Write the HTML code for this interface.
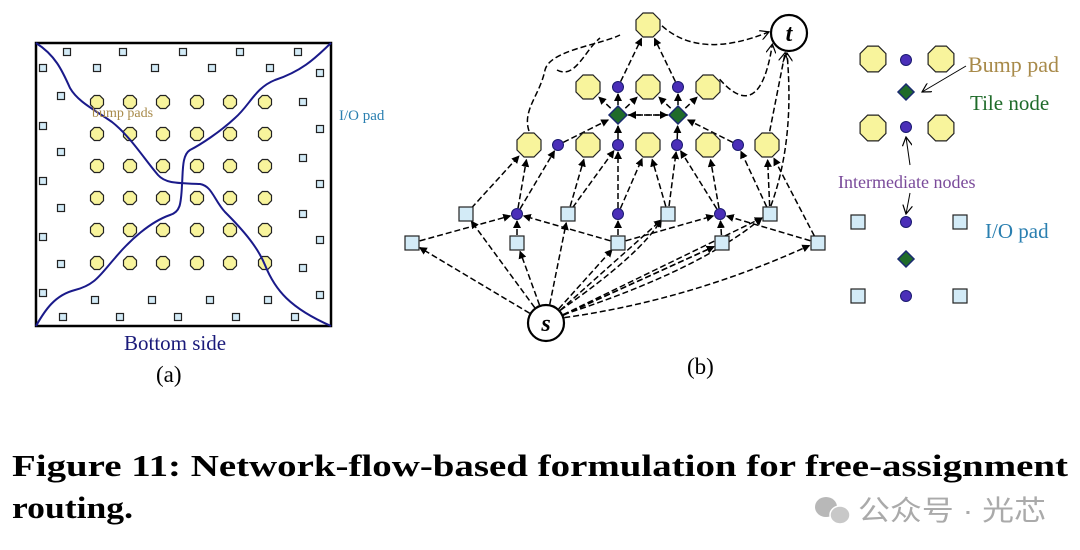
<!DOCTYPE html>
<html><head><meta charset="utf-8"><style>
html,body{margin:0;padding:0;background:#fff;width:1080px;height:550px;overflow:hidden}
svg{display:block}
</style></head><body>
<svg id="s" width="1080" height="550" viewBox="0 0 1080 550" xmlns="http://www.w3.org/2000/svg" font-family="Liberation Serif, serif">
<defs>
<marker id="ah" markerWidth="8" markerHeight="8" refX="7" refY="4" orient="auto" markerUnits="userSpaceOnUse"><path d="M0,0 L8,4 L0,8 z" fill="#000"/></marker>
<marker id="ao" markerWidth="10" markerHeight="10" refX="9" refY="5" orient="auto" markerUnits="userSpaceOnUse"><path d="M0,0 L9,5 L0,10" fill="none" stroke="#000" stroke-width="1.2"/></marker>
</defs>
<g id="a"></g>
<g id="edges" fill="none" stroke="#000" stroke-width="1.5" stroke-dasharray="6,3"></g>
<g id="nodes"></g>
<text x="92" y="117" font-size="14" fill="#a88a4a">bump pads</text>
<text x="339" y="120" font-size="15" fill="#2a7fb0">I/O pad</text>
<text x="124" y="350" font-size="21" fill="#1a1a7a">Bottom side</text>
<text x="156" y="382" font-size="23" fill="#000">(a)</text>
<text x="687" y="374" font-size="23" fill="#000">(b)</text>
<text x="968" y="72" font-size="22" fill="#a88a4a">Bump pad</text>
<text x="970" y="110" font-size="21" fill="#1f6b2a">Tile node</text>
<text x="838" y="188" font-size="18" fill="#7a4a9a">Intermediate nodes</text>
<text x="985" y="238" font-size="21" fill="#2a7fb0">I/O pad</text>
<g stroke="#000" stroke-width="1" fill="none">
<path d="M966,66 L922,92" marker-end="url(#ao)"/>
<path d="M910,165 L906,137" marker-end="url(#ao)"/>
<path d="M910,193 L906,214" marker-end="url(#ao)"/>
</g>
<text x="12" y="476" font-size="31" font-weight="bold" fill="#000" textLength="1056" lengthAdjust="spacingAndGlyphs">Figure 11: Network-flow-based formulation for free-assignment</text>
<text x="12" y="518" font-size="31" font-weight="bold" fill="#000" textLength="121" lengthAdjust="spacingAndGlyphs">routing.</text>
<g fill="#b8b8b8"><ellipse cx="826" cy="507" rx="11" ry="10"/><ellipse cx="840" cy="515" rx="10" ry="9" fill="#c8c8c8" stroke="#fff" stroke-width="1.5"/></g>
<text x="858" y="520" font-size="28" fill="#aaa" font-family="Liberation Sans, Noto Sans CJK SC, sans-serif" textLength="188" lengthAdjust="spacingAndGlyphs">公众号 · 光芯</text>
</svg>
<script>
const NS="http://www.w3.org/2000/svg";
function el(p,t,a){const e=document.createElementNS(NS,t);for(const k in a)e.setAttribute(k,a[k]);p.appendChild(e);return e;}
const A=document.getElementById('a'),E=document.getElementById('edges'),N=document.getElementById('nodes');
function oct(g,x,y,r,fill){let p=[];for(let i=0;i<8;i++){const a=Math.PI/8+i*Math.PI/4;p.push((x+r*Math.cos(a)).toFixed(1)+","+(y+r*Math.sin(a)).toFixed(1));}el(g,'polygon',{points:p.join(' '),fill:fill||'#f8f49c',stroke:'#222','stroke-width':1.2});}
function sq(g,x,y,s){el(g,'rect',{x:x-s/2,y:y-s/2,width:s,height:s,fill:'#d3ebf7',stroke:'#222','stroke-width':1.2});}
function dot(g,x,y,r){el(g,'circle',{cx:x,cy:y,r:r||5,fill:'#4a2fb8',stroke:'#1a1a70','stroke-width':1});}
function dia(g,x,y,r){r=r||8;el(g,'polygon',{points:`${x},${y-r} ${x+r},${y} ${x},${y+r} ${x-r},${y}`,fill:'#1f6b2a',stroke:'#1a2a70','stroke-width':1.5});}
el(A,'rect',{x:36,y:43,width:295,height:283,fill:'none',stroke:'#000','stroke-width':2.5});
const cx=[97,130,163,197,230,265],cy=[102,134,166,198,230,263];
cx.forEach(x=>cy.forEach(y=>oct(A,x,y,7)));
const sqs=[[67,52],[123,52],[183,52],[240,52],[298,52],[97,68],[155,68],[212,68],[270,68],
[43,68],[61,96],[43,126],[61,152],[43,181],[61,208],[43,237],[61,264],[43,293],
[320,73],[303,102],[320,129],[303,158],[320,184],[303,214],[320,240],[303,268],[320,295],
[95,300],[152,300],[210,300],[268,300],[63,317],[120,317],[178,317],[236,317],[295,317]];
sqs.forEach(p=>sq(A,p[0],p[1],7));
el(A,'path',{d:"M36,43 C55,55 62,70 70,88 C78,102 95,110 112,122 C130,136 145,160 158,175 C165,183 175,183 200,184 C212,186 214,200 225,212 C245,232 258,248 265,265 C275,290 290,308 331,326",fill:'none',stroke:'#1a1a8a','stroke-width':2});
el(A,'path',{d:"M331,43 C318,55 305,70 275,80 C255,88 250,105 235,118 C220,132 200,145 190,150 C182,155 183,170 182,185 C181,205 180,212 170,215 C150,222 130,240 115,258 C100,275 95,285 75,290 C55,295 45,310 36,326",fill:'none',stroke:'#1a1a8a','stroke-width':2});
const P={T:[648,25,'o'],t:[789,33,'c'],s:[546,323,'c'],
O2a:[588,87,'o'],d2a:[618,87,'d'],O2b:[648,87,'o'],d2b:[678,87,'d'],O2c:[708,87,'o'],
D1:[618,115,'D'],D2:[678,115,'D'],
O3a:[529,145,'o'],d3a:[558,145,'d'],O3b:[588,145,'o'],d3b:[618,145,'d'],O3c:[648,145,'o'],d3c:[677,145,'d'],O3d:[708,145,'o'],d3d:[738,145,'d'],O3e:[767,145,'o'],
S4a:[466,214,'s'],d4a:[517,214,'d'],S4b:[568,214,'s'],d4b:[618,214,'d'],S4c:[668,214,'s'],d4c:[720,214,'d'],S4d:[770,214,'s'],
S5a:[412,243,'s'],S5b:[517,243,'s'],S5c:[618,243,'s'],S5d:[722,243,'s'],S5e:[818,243,'s']};
const R={o:14,c:19,d:6,D:10,s:8};
function edge(a,b,curve,open){const A1=P[a],B=P[b];const dx=B[0]-A1[0],dy=B[1]-A1[1],L=Math.hypot(dx,dy);
const ra=R[A1[2]],rb=R[B[2]]+1;
const x1=A1[0]+dx/L*ra,y1=A1[1]+dy/L*ra,x2=B[0]-dx/L*rb,y2=B[1]-dy/L*rb;
let d;if(curve){d=`M${x1},${y1} Q${curve[0]},${curve[1]} ${x2},${y2}`;}else d=`M${x1},${y1} L${x2},${y2}`;
el(E,'path',{d:d,'marker-end':open?'url(#ao)':'url(#ah)'});}
[['s','S5a'],['s','S4a'],['s','S5b'],['s','S4b'],['s','S5c'],['s','S4c'],['s','S5d'],['s','S4d'],
['S5a','d4a'],['S5b','d4a'],['S5c','d4a'],['S5c','d4b'],['S5c','d4c'],['S5d','d4c'],['S5e','d4c'],
['S4a','O3a'],['d4a','O3a'],['d4a','d3a'],['S4b','O3b'],['S4b','d3b'],['d4b','d3b'],['d4b','O3c'],['S4c','O3c'],['S4c','d3c'],['d4c','d3c'],['d4c','O3d'],['S4d','d3d'],['S4d','O3e'],['S5e','O3e'],
['d3a','D1'],['d3b','D1'],['d3c','D2'],['d3d','D2'],['D1','D2'],['D2','D1'],['D1','O2a'],['D1','O2b'],['D2','O2b'],['D2','O2c'],['D1','d2a'],['D2','d2b'],
['d2a','T'],['d2b','T']].forEach(e=>edge(e[0],e[1]));
edge('s','S5e',[690,300]);edge('s','S4c',[640,255]);edge('s','S4d',[700,270]);edge('s','S5d',[640,280]);
edge('T','t',[700,60],true);edge('O3e','t',null,true);edge('O2c','t',[760,125],true);edge('S4d','t',[795,140],true);
el(E,'path',{d:"M529,131 C522,110 540,95 545,70 C550,50 600,45 620,35"});
el(E,'path',{d:"M557,70 C575,80 585,50 600,38"});
for(const k in P){const[x,y,t]=P[k];
if(t==='o')oct(N,x,y,13);else if(t==='d')dot(N,x,y,5.5);else if(t==='D')dia(N,x,y,9);else if(t==='s')sq(N,x,y,14);
else{el(N,'circle',{cx:x,cy:y,r:18,fill:'#fff',stroke:'#000','stroke-width':2.2});const tx=el(N,'text',{x:x,y:y+8,'font-size':24,'font-style':'italic','font-weight':'bold','text-anchor':'middle'});tx.textContent=k;}}
oct(N,873,59,14);oct(N,941,59,14);dot(N,906,60,5.5);dia(N,906,92,8);
oct(N,873,128,14);oct(N,941,128,14);dot(N,906,127,5.5);
sq(N,858,222,14);sq(N,960,222,14);dot(N,906,222,5.5);dia(N,906,259,8);
sq(N,858,296,14);sq(N,960,296,14);dot(N,906,296,5.5);
</script>
</body></html>
